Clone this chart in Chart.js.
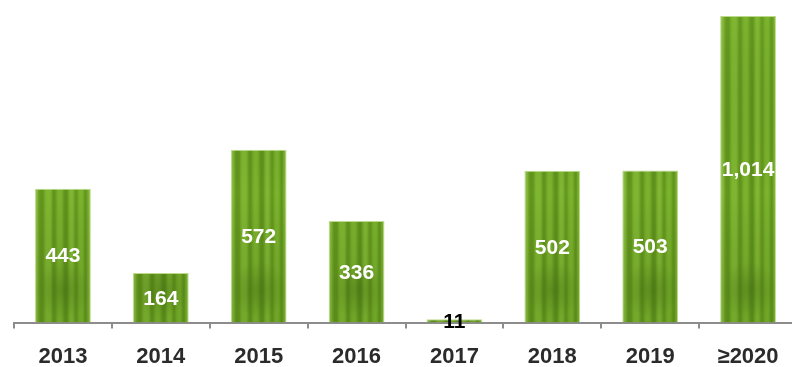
<!DOCTYPE html>
<html>
<head>
<meta charset="utf-8">
<script src="https://cdn.jsdelivr.net/npm/chart.js@4"></script>
<style>
html,body{margin:0;padding:0;background:#fff;overflow:hidden;}
#wrap{width:805px;height:385px;position:relative;}
</style>
</head>
<body>
<div id="wrap"><canvas id="c"></canvas></div>
<script>
const categories = ['2013','2014','2015','2016','2017','2018','2019','\u22652020'];
const values = [443, 164, 572, 336, 11, 502, 503, 1014];

function makeGrass(ctx) {
  const pc = document.createElement('canvas');
  pc.width = 98; pc.height = 385;
  const g = pc.getContext('2d');
  g.fillStyle = '#72a826';
  g.fillRect(0, 0, 98, 385);
  g.filter = 'blur(1.2px)';
  const stripes = [
    [34,4,'rgba(165,212,95,0.5)'],[39,5,'rgba(75,120,15,0.4)'],
    [45,7,'rgba(145,200,65,0.45)'],[52,4,'rgba(70,115,12,0.4)'],
    [57,9,'rgba(140,198,60,0.35)'],[63,5,'rgba(65,108,12,0.45)'],
    [69,6,'rgba(150,205,70,0.4)'],[74,4,'rgba(75,120,15,0.4)'],
    [78,7,'rgba(135,195,55,0.4)'],[84,4,'rgba(62,108,10,0.4)'],
    [87,5,'rgba(150,208,72,0.45)']
  ];
  stripes.forEach(s => {
    g.fillStyle = s[2];
    g.fillRect(s[0], -10, s[1], 405);
  });
  g.filter = 'none';
  const vg = g.createLinearGradient(0, 0, 0, 323);
  vg.addColorStop(0, 'rgba(140,200,60,0.15)');
  vg.addColorStop(0.6, 'rgba(0,0,0,0)');
  vg.addColorStop(1, 'rgba(50,90,10,0.15)');
  g.fillStyle = vg;
  g.fillRect(0, 0, 98, 385);
  const rg = g.createRadialGradient(63, 290, 2, 63, 290, 28);
  rg.addColorStop(0, 'rgba(60,100,15,0.35)');
  rg.addColorStop(1, 'rgba(60,100,15,0)');
  g.fillStyle = rg;
  g.fillRect(0, 0, 98, 385);
  return ctx.createPattern(pc, 'repeat');
}

const canvas = document.getElementById('c');
const ctx = canvas.getContext('2d');
const grass = makeGrass(ctx);

const labelPlugin = {
  id: 'barLabels',
  afterDatasetsDraw(chart) {
    const c = chart.ctx;
    const meta = chart.getDatasetMeta(0);
    c.save();
    c.font = 'bold 21px "Liberation Sans", Arial, sans-serif';
    c.textAlign = 'center';
    c.textBaseline = 'middle';
    meta.data.forEach((bar, i) => {
      const v = chart.data.datasets[0].data[i];
      const h = bar.base - bar.y;
      const cy = (bar.y + bar.base) / 2 + 1;
      c.fillStyle = h < 20 ? '#000000' : '#ffffff';
      c.fillText(v.toLocaleString('en-US'), bar.x, cy);
    });
    c.restore();
  }
};

new Chart(ctx, {
  type: 'bar',
  data: {
    labels: categories,
    datasets: [{
      data: values,
      backgroundColor: grass,
      borderColor: 'rgba(170,210,110,0.8)',
      borderWidth: 1,
      categoryPercentage: 1.0,
      barPercentage: 0.57
    }]
  },
  options: {
    responsive: true,
    maintainAspectRatio: false,
    animation: false,
    layout: { padding: { left: 14, right: 8, top: 0, bottom: 0 } },
    plugins: { legend: { display: false }, tooltip: { enabled: false } },
    scales: {
      x: {
        offset: true,
        grid: { offset: true, drawOnChartArea: false, drawTicks: true, tickLength: 6, color: '#8c8c8c', lineWidth: 2 },
        border: { display: true, color: '#8c8c8c', width: 2 },
        ticks: { color: '#2b2b2b', padding: 15, font: { family: '"Liberation Sans", Arial, sans-serif', size: 22, weight: 'bold' } }
      },
      y: { display: false, min: 0, max: 1067 }
    }
  },
  plugins: [labelPlugin]
});
</script>
</body>
</html>
